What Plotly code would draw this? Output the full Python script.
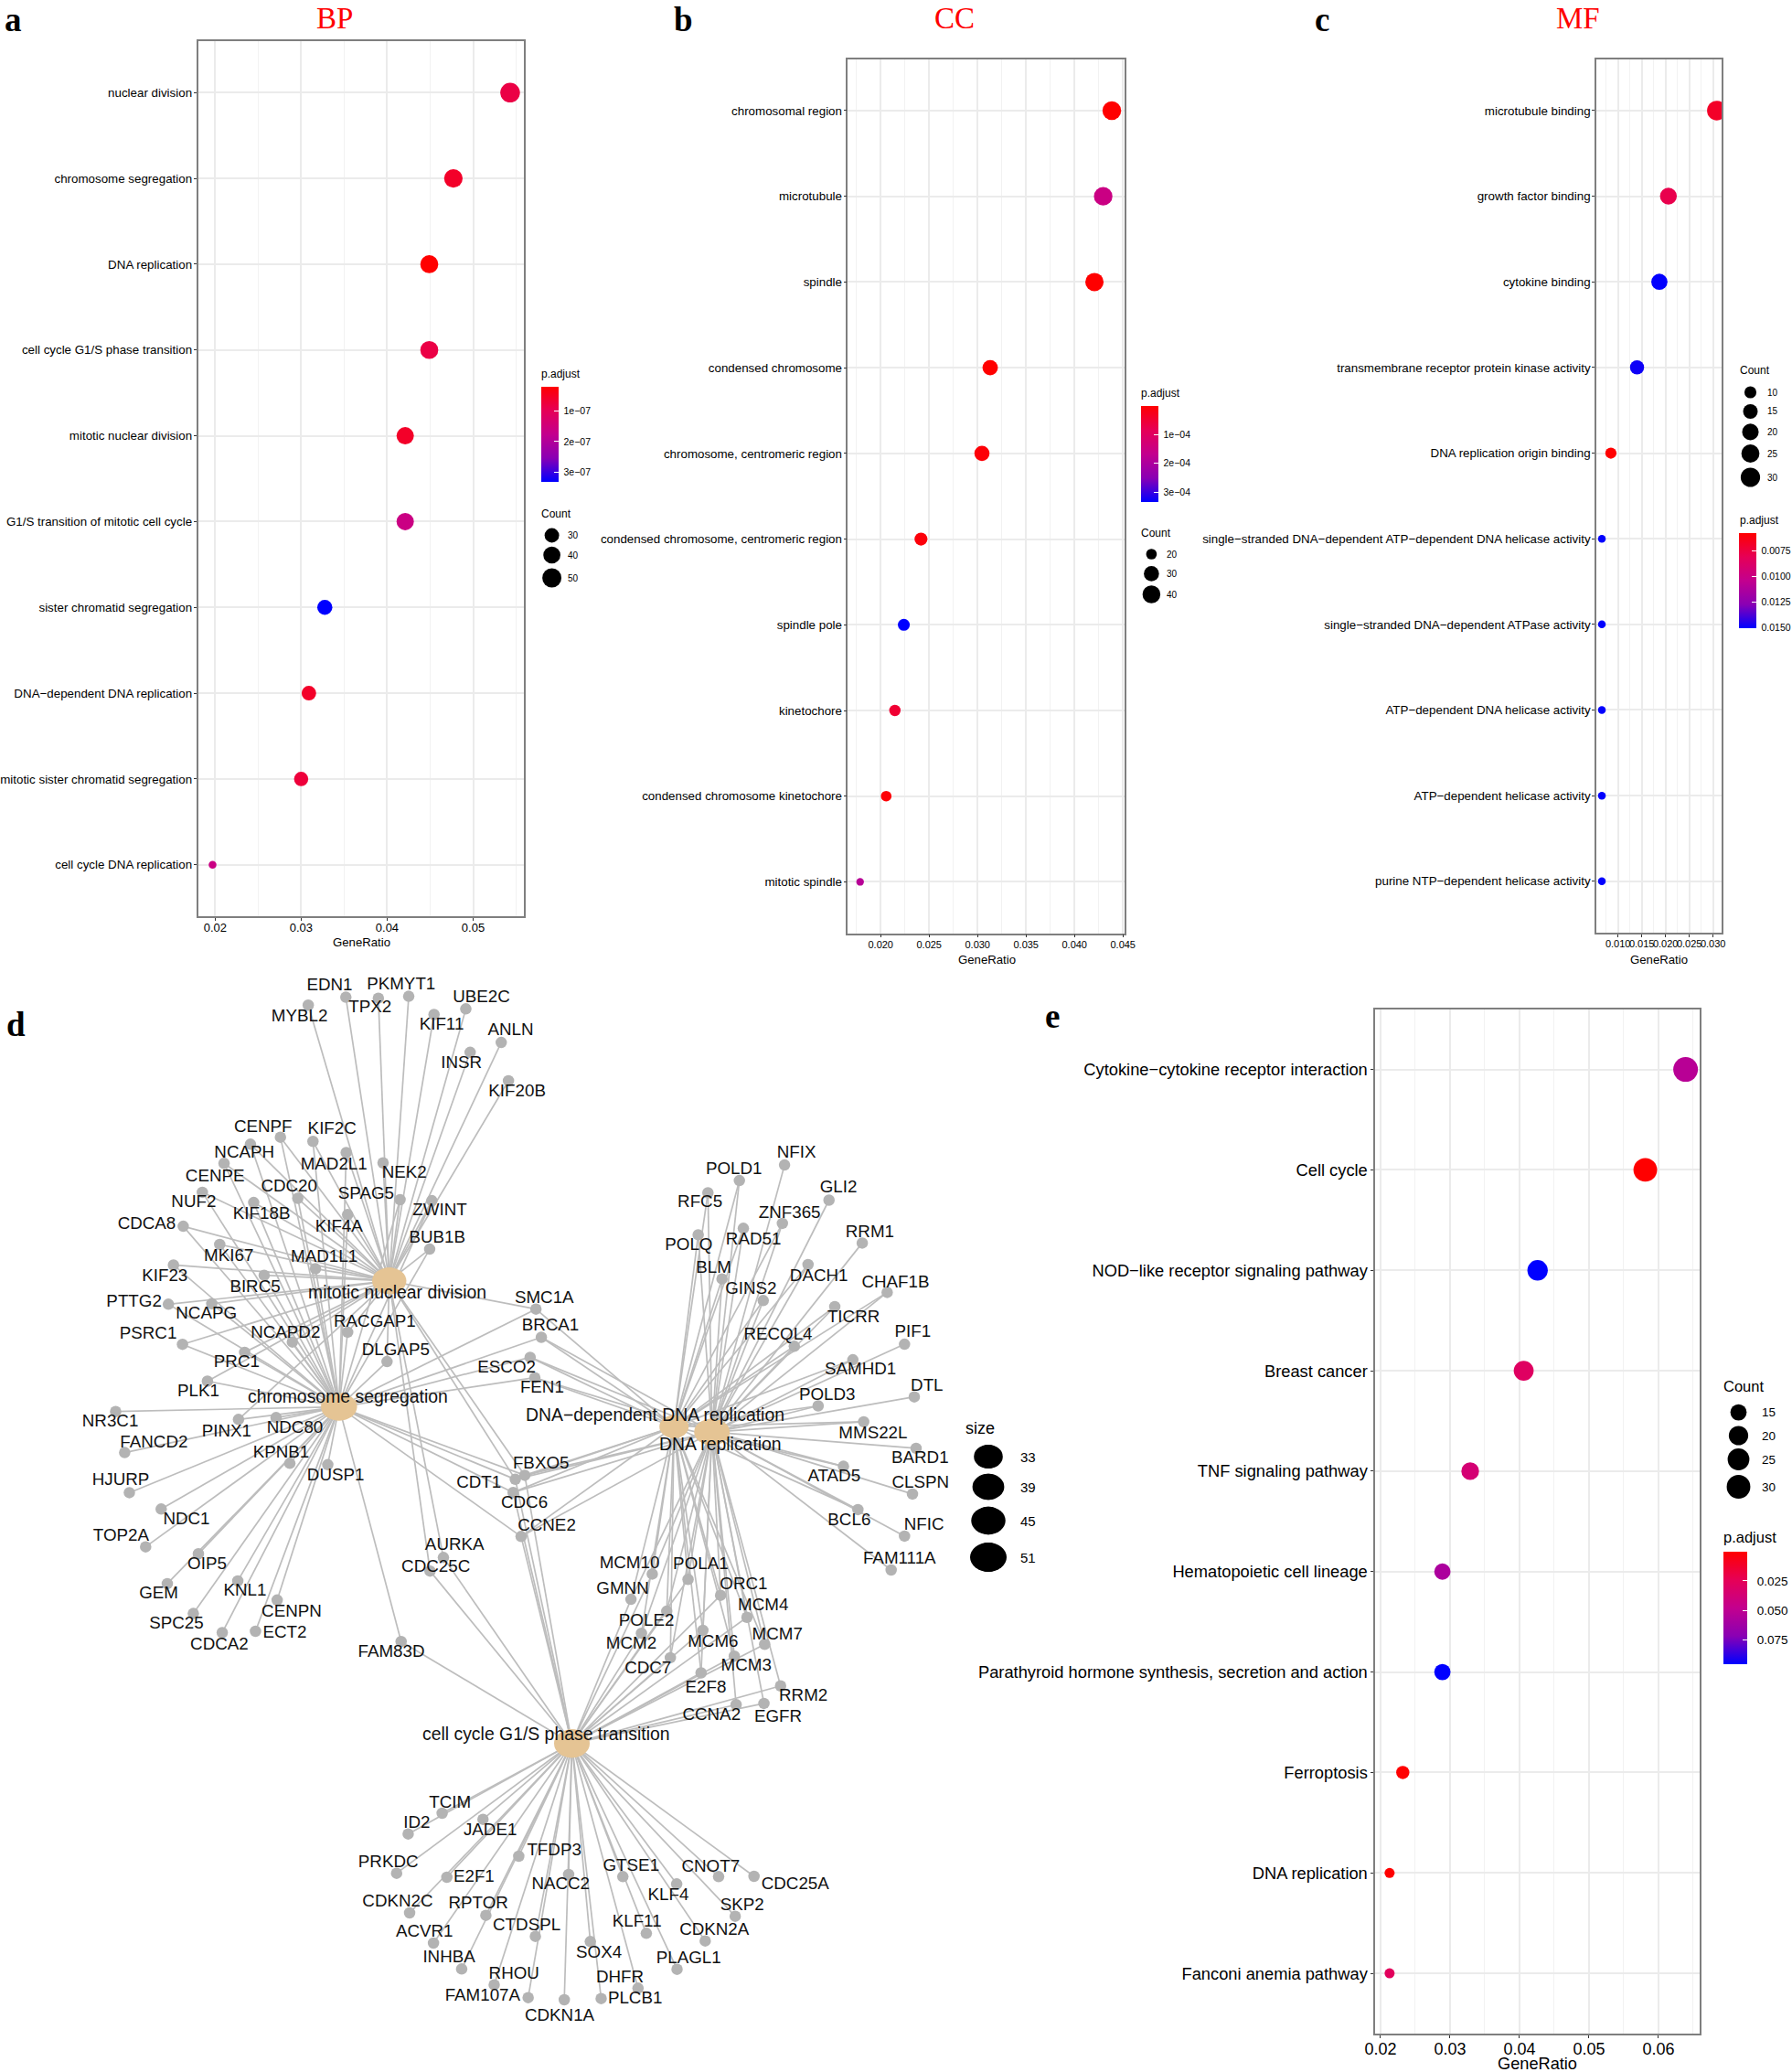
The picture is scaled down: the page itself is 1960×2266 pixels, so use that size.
import plotly.graph_objects as go

W, H = 1960, 2266

# ---------- dot plot data ----------
bp_terms = ["nuclear division", "chromosome segregation", "DNA replication", "cell cycle G1/S phase transition",
            "mitotic nuclear division", "G1/S transition of mitotic cell cycle", "sister chromatid segregation",
            "DNA\u2212dependent DNA replication", "mitotic sister chromatid segregation", "cell cycle DNA replication"]
bp_ratio = [0.0543, 0.0477, 0.0449, 0.0449, 0.0421, 0.0421, 0.03275, 0.0309, 0.0300, 0.0197]
bp_count = [53, 47, 44, 44, 41, 41, 32, 30, 29, 19]
bp_padj = [0.83e-7, 0.58e-7, 0.21e-7, 0.83e-7, 0.58e-7, 1.61e-7, 3.32e-7, 0.58e-7, 0.74e-7, 1.61e-7]

cc_terms = ["chromosomal region", "microtubule", "spindle", "condensed chromosome", "chromosome, centromeric region",
            "condensed chromosome, centromeric region", "spindle pole", "kinetochore",
            "condensed chromosome kinetochore", "mitotic spindle"]
cc_ratio = [0.04385, 0.04296, 0.04206, 0.0313, 0.03045, 0.02416, 0.02239, 0.02147, 0.02057, 0.01788]
cc_count = [44, 43, 42, 31, 30, 24, 22, 21, 20, 18]
cc_padj = [0.01e-4, 1.51e-4, 0.01e-4, 0.01e-4, 0.08e-4, 0.11e-4, 3.35e-4, 0.51e-4, 0.08e-4, 1.85e-4]

mf_terms = ["microtubule binding", "growth factor binding", "cytokine binding",
            "transmembrane receptor protein kinase activity", "DNA replication origin binding",
            "single\u2212stranded DNA\u2212dependent ATP\u2212dependent DNA helicase activity",
            "single\u2212stranded DNA\u2212dependent ATPase activity", "ATP\u2212dependent DNA helicase activity",
            "ATP\u2212dependent helicase activity", "purine NTP\u2212dependent helicase activity"]
mf_ratio = [0.0308, 0.0206, 0.0187, 0.0140, 0.0085, 0.0066, 0.0066, 0.0066, 0.0066, 0.0066]
mf_count = [31, 21, 19, 14, 9, 7, 7, 7, 7, 7]
mf_padj = [0.0068, 0.0078, 0.0150, 0.0148, 0.0057, 0.0150, 0.0150, 0.0150, 0.0150, 0.0150]

kegg_terms = ["Cytokine\u2212cytokine receptor interaction", "Cell cycle", "NOD\u2212like receptor signaling pathway",
              "Breast cancer", "TNF signaling pathway", "Hematopoietic cell lineage",
              "Parathyroid hormone synthesis, secretion and action", "Ferroptosis", "DNA replication",
              "Fanconi anemia pathway"]
kegg_ratio = [0.0639, 0.0581, 0.0426, 0.0406, 0.0329, 0.0289, 0.0289, 0.0232, 0.0213, 0.0213]
kegg_count = [33, 30, 22, 21, 17, 15, 15, 12, 11, 11]
kegg_padj = [0.0527, 0.0002, 0.0959, 0.0288, 0.0364, 0.0575, 0.0959, 0.0002, 0.0002, 0.0269]

# ---------- network data: gene, node x, node y, label x, label y (layout units) ----------
net_left = [("MYBL2",853,77,829,103),("EDN1",957,60,912,36),("TPX2",1047,62,1024,83),("PKMYT1",1131,58,1110,34),
 ("KIF11",1201,97,1222,121),("UBE2C",1289,85,1332,61),("ANLN",1387,157,1413,131),("INSR",1301,178,1277,202),
 ("KIF20B",1407,239,1431,263),("CENPF",776,360,728,339),("KIF2C",866,369,919,343),("NCAPH",693,375,676,394),
 ("MAD2L1",958,393,924,420),("NEK2",1060,415,1119,437),("CENPE",620,416,595,445),("CDC20",824,491,800,468),
 ("SPAG5",1107,494,1013,483),("NUF2",560,478,536,500),("KIF18B",702,500,724,525),("ZWINT",1195,496,1217,518),
 ("KIF4A",962,526,938,553),("CDCA8",507,551,406,547),("BUB1B",1189,600,1210,577),("MKI67",608,590,633,617),
 ("MAD1L1",873,642,897,618),("KIF23",480,634,456,659),("BIRC5",731,656,706,682),("PTTG2",466,718,371,714),
 ("NCAPG",586,717,571,740),("RACGAP1",962,778,1037,757),("NCAPD2",809,799,790,781),("PSRC1",505,804,410,783),
 ("PRC1",677,821,655,843),("DLGAP5",1071,841,1095,818),("PLK1",574,883,549,906),("NR3C1",320,948,305,970),
 ("PINX1",660,965,627,993),("NDC80",764,961,816,985),("FANCD2",345,1036,426,1016),("KPNB1",802,1059,778,1037),
 ("DUSP1",907,1062,929,1087),("HJURP",358,1122,334,1097),("NDC1",446,1157,516,1180),("TOP2A",403,1238,335,1215),
 ("OIP5",549,1253,573,1277),("GEM",463,1317,439,1340),("KNL1",658,1311,678,1334),("SPC25",535,1381,488,1403),
 ("CENPN",767,1352,807,1378),("CDCA2",615,1422,607,1449),("ECT2",707,1419,788,1423),("FAM83D",1110,1441,1083,1465),
 ("AURKA",1227,1261,1258,1235),("CDC25C",1190,1290,1206,1282)]
net_right = [("NFIX",906,166,939,137),("POLD1",781,204,766,178),("RFC5",694,234,672,259),("GLI2",1029,252,1055,222),
 ("ZNF365",900,309,920,285),("RAD51",792,321,820,350),("POLQ",667,337,641,363),("RRM1",1121,357,1142,332),
 ("DACH1",971,410,1001,440),("BLM",733,445,710,419),("CHAF1B",1190,478,1213,455),("GINS2",847,498,813,471),
 ("TICRR",1045,513,1097,541),("SMC1A",218,519,241,493),("BRCA1",233,588,258,560),("RECQL4",933,610,888,583),
 ("PIF1",1238,605,1261,576),("SAMHD1",1095,643,1116,669),("ESCO2",202,637,137,664),("FEN1",215,687,235,714),
 ("POLD3",999,756,1024,730),("DTL",1265,734,1300,708),("MMS22L",1125,795,1151,826),("BARD1",1270,860,1281,886),
 ("ATAD5",1069,904,1043,931),("CLSPN",1260,972,1282,947),("BCL6",1109,1010,1085,1038),("NFIC",1238,1075,1292,1050),
 ("FAM111A",1201,1158,1224,1133),("FBXO5",187,926,232,898),("CDT1",161,936,60,947),("CDC6",155,968,186,996),
 ("CCNE2",177,1076,248,1051),("MCM10",540,1168,477,1144),("POLA1",639,1181,674,1146),("GMNN",481,1230,458,1205),
 ("ORC1",729,1220,793,1195),("POLE2",580,1259,524,1285),("MCM4",802,1274,847,1247),("MCM2",510,1313,482,1341),
 ("MCM6",680,1306,708,1335),("MCM7",851,1340,886,1317),("CDC7",590,1373,528,1400),("MCM3",767,1369,800,1395),
 ("E2F8",675,1410,688,1448),("RRM2",895,1442,958,1468),("CCNA2",772,1488,704,1514),("EGFR",849,1485,888,1519)]
net_bottom = [("TCIM",338,399,360,366),("ID2",244,467,268,433),("JADE1",451,419,471,458),("PRKDC",212,596,189,561),
 ("TFDP3",550,540,648,522),("E2F1",351,609,426,611),("NACC2",688,600,666,635),("GTSE1",838,607,861,575),
 ("CNOT7",1103,607,1081,576),("CDC25A",1201,606,1315,635),("KLF4",987,631,964,670),("CDKN2C",248,726,215,690),
 ("RPTOR",459,734,438,696),("SKP2",1149,737,1168,703),("CTDSPL",596,803,572,770),("KLF11",903,793,877,757),
 ("CDKN2A",1066,818,1091,784),("ACVR1",314,825,289,791),("SOX4",748,820,772,859),("INHBA",392,910,357,874),
 ("PLAGL1",988,911,1020,876),("RHOU",482,962,537,929),("DHFR",880,973,830,940),("FAM107A",576,1004,450,999),
 ("CDKN1A",676,1011,663,1067),("PLCB1",778,1007,872,1008)]

hub_names = ["mitotic nuclear division", "chromosome segregation", "DNA\u2212dependent DNA replication",
             "DNA replication", "cell cycle G1/S phase transition"]
hub_xy = [(425.7, 1400.8), (370.8, 1538.6), (737.2, 1560.3), (778.7, 1566.1), (625.5, 1906.7)]
hub_label_xy = [(434, 1413), (380, 1527), (716.6, 1546.9), (787.7, 1578.6), (597, 1895.7)]
hub_size_w = [37.5, 39.5, 32, 39, 39]
hub_size_h = [29, 30, 25, 29, 31]

to_mitotic = ("MYBL2 EDN1 TPX2 PKMYT1 KIF11 UBE2C ANLN INSR KIF20B CENPF KIF2C NCAPH MAD2L1 NEK2 CENPE CDC20 SPAG5 NUF2 "
              "KIF18B ZWINT KIF4A CDCA8 BUB1B MKI67 MAD1L1 KIF23 BIRC5 PTTG2 NCAPG RACGAP1 NCAPD2 PSRC1 PRC1 DLGAP5 PLK1 "
              "PINX1 AURKA CDC25C SMC1A FBXO5 CDT1").split()
to_chromosome = ("CENPF KIF2C NCAPH MAD2L1 CENPE CDC20 SPAG5 NUF2 KIF18B ZWINT KIF4A CDCA8 BUB1B MKI67 MAD1L1 KIF23 BIRC5 "
                 "PTTG2 NCAPG RACGAP1 NCAPD2 PSRC1 PRC1 DLGAP5 PLK1 NR3C1 PINX1 NDC80 FANCD2 KPNB1 DUSP1 HJURP NDC1 TOP2A "
                 "OIP5 GEM KNL1 SPC25 CENPN CDCA2 ECT2 FAM83D SMC1A BRCA1 ESCO2 FEN1 FBXO5 CDT1 CDC6 CCNE2").split()
to_dna_dep = ("POLD1 RFC5 POLQ RAD51 BLM GINS2 RECQL4 TICRR POLD3 ATAD5 MMS22L SAMHD1 CHAF1B DACH1 ZNF365 SMC1A BRCA1 ESCO2 "
              "FEN1 FBXO5 CDT1 CDC6 CCNE2 MCM10 POLA1 GMNN ORC1 POLE2 MCM4 MCM2 MCM6 MCM7 CDC7 MCM3 E2F8 BCL6").split()
to_dna_rep = ("NFIX POLD1 RFC5 GLI2 ZNF365 RAD51 POLQ RRM1 DACH1 BLM CHAF1B GINS2 TICRR BRCA1 RECQL4 PIF1 SAMHD1 ESCO2 FEN1 "
              "POLD3 DTL MMS22L BARD1 ATAD5 CLSPN BCL6 NFIC FAM111A FBXO5 CDT1 CDC6 CCNE2 MCM10 POLA1 GMNN ORC1 POLE2 MCM4 "
              "MCM2 MCM6 MCM7 CDC7 MCM3 E2F8 RRM2 CCNA2 EGFR").split()
to_g1s = ("TCIM ID2 JADE1 PRKDC TFDP3 E2F1 NACC2 GTSE1 CNOT7 CDC25A KLF4 CDKN2C RPTOR SKP2 CTDSPL KLF11 CDKN2A ACVR1 SOX4 "
          "INHBA PLAGL1 RHOU DHFR FAM107A CDKN1A PLCB1 FAM83D AURKA CDC25C FBXO5 CDT1 CDC6 CCNE2 MCM10 POLA1 GMNN ORC1 POLE2 "
          "MCM4 MCM2 MCM6 MCM7 CDC7 MCM3 E2F8 RRM2 CCNA2 EGFR").split()
hub_genes = [to_mitotic, to_chromosome, to_dna_dep, to_dna_rep, to_g1s]

size_legend_values = [33, 39, 45, 51]
size_legend_y = [1593, 1626, 1663, 1703]
size_legend_w = [31.6, 34.8, 37.5, 40]
size_legend_h = [26, 28.6, 30.4, 32]

# ---------- helpers ----------
SANS = "Liberation Sans"
SERIF = "Liberation Serif"
GRAD = [[0, "#0000FF"], [0.25, "#8A00B4"], [0.5, "#C3008E"], [0.75, "#E60056"], [1, "#FF0000"]]


def fx(p):
    return p / W


def fy(p):
    return 1 - p / H


def dia(c, cmin, cmax, dmin, dmax):
    return dmin + (dmax - dmin) * (max(c - cmin, 0) / (cmax - cmin)) ** 0.5


fig = go.Figure()
annotations = []
shapes = []


def note(text, x, y, size, anchor="left", font=SANS, color="black", weight=None):
    annotations.append(dict(text=text, x=fx(x), y=fy(y), xref="paper", yref="paper", showarrow=False,
                            xanchor=anchor, yanchor="middle", align=anchor, borderpad=0, borderwidth=0,
                            font=dict(family=font, size=size, color=color, weight=weight)))


panels = [
    dict(terms=bp_terms, ratio=bp_ratio, count=bp_count, padj=bp_padj, box=(216.5, 573, 45, 1002),
         xr=(0.0180, 0.0559), dtick=0.01, tick0=0.02, fmt=".2f", tsize=13, lsize=13.35, gr=(395, 1030, 13.2), off=-3, yoff=-1,
         d=(19, 53, 8.5, 21.5), cb=(592.4, 611, 423, 527.4), cr=(0.206e-7, 3.32e-7),
         cbv=[1e-7, 2e-7, 3e-7], cbt=["1e\u221207", "2e\u221207", "3e\u221207"], csize=10.5, pad=1,
         ptitle=(592.4, 409), ctitle=(592.4, 562), ldot=603.6, llab=621.4,
         lv=[30, 40, 50], ly=[585.5, 607, 632], tfont=12, lfont=10),
    dict(terms=cc_terms, ratio=cc_ratio, count=cc_count, padj=cc_padj, box=(927.4, 1229.5, 64.7, 1020.7),
         xr=(0.01662, 0.04512), dtick=0.005, tick0=0.02, fmt=".3f", tsize=11, lsize=13.35, gr=(1079, 1049.6, 13.2), off=-2, yoff=-1,
         d=(18, 44, 8.3, 20.5), cb=(1247.9, 1267.2, 444.2, 548.9), cr=(0.01e-4, 3.35e-4),
         cbv=[1e-4, 2e-4, 3e-4], cbt=["1e\u221204", "2e\u221204", "3e\u221204"], csize=10.5, pad=1,
         ptitle=(1247.9, 430.4), ctitle=(1247.9, 582.6), ldot=1259.4, llab=1276,
         lv=[20, 30, 40], ly=[606, 627.4, 650], tfont=12, lfont=10),
    dict(terms=mf_terms, ratio=mf_ratio, count=mf_count, padj=mf_padj, box=(1746, 1883, 64.7, 1020),
         xr=(0.00544, 0.03179), dtick=0.005, tick0=0.01, fmt=".3f", tsize=11, lsize=13.35, gr=(1814.7, 1049.6, 13.2), off=-2, yoff=-1,
         d=(7, 31, 8.5, 21.5), cb=(1902, 1921, 582.6, 687), cr=(0.00571, 0.01504),
         cbv=[0.0075, 0.0100, 0.0125, 0.0150], cbt=["0.0075", "0.0100", "0.0125", "0.0150"], csize=10.5, pad=1,
         ptitle=(1902.7, 569), ctitle=(1902.7, 405), ldot=1914.5, llab=1933,
         lv=[10, 15, 20, 25, 30], ly=[429, 450, 472.4, 496, 522], tfont=12, lfont=10),
    dict(terms=kegg_terms, ratio=kegg_ratio, count=kegg_count, padj=kegg_padj, box=(1504.2, 1859.2, 1103.7, 2224),
         xr=(0.01924, 0.06595), dtick=0.01, tick0=0.02, fmt=".2f", tsize=18, lsize=18.3, gr=(1681.5, 2257, 18.2), off=-3, yoff=0,
         d=(11, 33, 11, 27), cb=(1885, 1911, 1697, 1819.7), cr=(0.0002, 0.0959),
         cbv=[0.025, 0.05, 0.075], cbt=["0.025", "0.050", "0.075"], csize=13.5, pad=2,
         ptitle=(1885, 1681.4), ctitle=(1885, 1516), ldot=1901.5, llab=1927,
         lv=[15, 20, 25, 30], ly=[1544.6, 1570, 1596, 1626], tfont=16.5, lfont=13.5),
]

axis_style = dict(showline=True, mirror=True, linecolor="#7F7F7F", linewidth=1.5, gridcolor="#EBEBEB", gridwidth=1.5,
                  ticks="outside", ticklen=3, tickcolor="#333333", zeroline=False, showgrid=True)
layout_axes = {}
legend_x, legend_y, legend_s = [], [], []

for i, p in enumerate(panels, start=1):
    l, r, t, b = p["box"]
    ax = "" if i == 1 else str(i)
    n = len(p["terms"])
    tvals = []
    v = p["tick0"]
    while v <= p["xr"][1] + 1e-9:
        tvals.append(round(v, 4))
        v += p["dtick"]
    layout_axes[f"xaxis{ax}"] = dict(domain=[fx(l), fx(r)], range=list(p["xr"]), anchor=f"y{ax}", tickmode="array",
                                     tickvals=tvals, ticktext=[format(v, p["fmt"]) for v in tvals], tickangle=0,
                                     tickfont=dict(family=SANS, size=p["tsize"], color="black"),
                                     ticklabelstandoff=p["off"],
                                     minor=dict(dtick=p["dtick"] / 2, tick0=p["tick0"], showgrid=True, gridcolor="#F2F2F2",
                                                gridwidth=1, ticks=""),
                                     **axis_style)
    layout_axes[f"yaxis{ax}"] = dict(domain=[fy(b), fy(t)], type="category", categoryorder="array",
                                     categoryarray=p["terms"], range=[n - 0.4, -0.6], anchor=f"x{ax}",
                                     ticklabelstandoff=p["yoff"],
                                     tickfont=dict(family=SANS, size=p["lsize"], color="black"), **axis_style)
    cl, cr, ct, cb = p["cb"]
    fig.add_trace(go.Scatter(
        x=p["ratio"], y=p["terms"], mode="markers", xaxis=f"x{ax}", yaxis=f"y{ax}", showlegend=False,
        marker=dict(size=[dia(c, *p["d"]) for c in p["count"]], color=[-v for v in p["padj"]], opacity=1,
                    cmin=-p["cr"][1], cmax=-p["cr"][0], colorscale=GRAD, line=dict(width=0),
                    colorbar=dict(x=fx(cl), xanchor="left", y=fy(ct), yanchor="top", len=cb - ct, lenmode="pixels",
                                  thickness=cr - cl, thicknessmode="pixels", outlinewidth=0, xpad=0, ypad=0,
                                  ticks="inside", tickcolor="white", ticklen=5, tickwidth=1,
                                  tickmode="array", tickvals=[-v for v in p["cbv"]],
                                  ticktext=["\u00a0" * p["pad"] + s for s in p["cbt"]],
                                  tickfont=dict(family=SANS, size=p["csize"], color="black")))))
    note("GeneRatio", p["gr"][0], p["gr"][1], p["gr"][2], anchor="center")
    note("p.adjust", p["ptitle"][0], p["ptitle"][1], p["tfont"])
    note("Count", p["ctitle"][0], p["ctitle"][1], p["tfont"])
    for v, y in zip(p["lv"], p["ly"]):
        legend_x.append(p["ldot"])
        legend_y.append(y)
        legend_s.append(dia(v, *p["d"]))
        note(str(v), p["llab"], y, p["lfont"])

# ---------- network ----------
layout_axes["xaxis6"] = dict(domain=[0, 1], range=[0, W], visible=False, anchor="y6", fixedrange=True)
layout_axes["yaxis6"] = dict(domain=[0, 1], range=[H, 0], visible=False, anchor="x6", fixedrange=True)


def conv(rows, sx, sy, ox, oy):
    return {g: (a / sx + ox, b / sy + oy, c / sx + ox, d / sy + oy) for g, a, b, c, d in rows}


nodes = {}
nodes.update(conv(net_left, 2.53, 1.96, 0, 1060))
nodes.update(conv(net_right, 2.53, 2.24, 500, 1200))
nodes.update(conv(net_bottom, 2.53, 3.0, 350, 1850))

ex, ey = [], []
for (hx, hy), genes in zip(hub_xy, hub_genes):
    for g in genes:
        ex += [hx, nodes[g][0], None]
        ey += [hy, nodes[g][1], None]

fig.add_trace(go.Scatter(x=ex, y=ey, mode="lines", xaxis="x6", yaxis="y6", showlegend=False, hoverinfo="skip",
                         line=dict(color="#BDBDBD", width=1.7)))
names = list(nodes)
fig.add_trace(go.Scatter(x=[nodes[g][0] for g in names], y=[nodes[g][1] for g in names], mode="markers",
                         xaxis="x6", yaxis="y6", showlegend=False, text=names,
                         marker=dict(size=12.5, color="#B3B3B3", line=dict(width=0), opacity=1)))
fig.add_trace(go.Scatter(x=[h[0] for h in hub_xy], y=[h[1] for h in hub_xy], mode="markers", xaxis="x6", yaxis="y6",
                         showlegend=False, text=hub_names,
                         marker=dict(size=hub_size_h, color="#E5C494", line=dict(width=0), opacity=1)))
fig.add_trace(go.Scatter(x=[nodes[g][2] for g in names], y=[nodes[g][3] for g in names], mode="text", text=names,
                         textposition="middle center", xaxis="x6", yaxis="y6", showlegend=False, hoverinfo="skip",
                         textfont=dict(family=SANS, size=18.8, color="#111111")))
for nm, (hx, hy), (lx, ly), w, h in zip(hub_names, hub_xy, hub_label_xy, hub_size_w, hub_size_h):
    shapes.append(dict(type="circle", xref="x6", yref="y6", xsizemode="pixel", ysizemode="pixel", xanchor=hx, yanchor=hy,
                       x0=-w / 2, x1=w / 2, y0=-h / 2, y1=h / 2, fillcolor="#E5C494", line=dict(width=0), layer="above"))
    note(nm, lx, ly, 19.4, anchor="center", color="#111111")

# size legend
fig.add_trace(go.Scatter(x=[1081] * len(size_legend_y), y=size_legend_y, mode="markers", xaxis="x6", yaxis="y6",
                         showlegend=False, text=[str(v) for v in size_legend_values],
                         marker=dict(size=size_legend_h, color="black", line=dict(width=0), opacity=1)))
for v, y, w, h in zip(size_legend_values, size_legend_y, size_legend_w, size_legend_h):
    shapes.append(dict(type="circle", xref="x6", yref="y6", xsizemode="pixel", ysizemode="pixel", xanchor=1081, yanchor=y,
                       x0=-w / 2, x1=w / 2, y0=-h / 2, y1=h / 2, fillcolor="black", line=dict(width=0), layer="above"))
    note(str(v), 1116, y, 15)
note("size", 1056, 1561.6, 18)

# dot-plot count legends
fig.add_trace(go.Scatter(x=legend_x, y=legend_y, mode="markers", xaxis="x6", yaxis="y6", showlegend=False,
                         marker=dict(size=legend_s, color="black", line=dict(width=0), opacity=1)))

# panel letters and titles
for txt, x, y in [("a", 14, 22), ("b", 747, 22), ("c", 1446, 22), ("d", 17, 1120), ("e", 1151, 1111)]:
    note(f"<b>{txt}</b>", x, y, 37, anchor="center", font=SERIF)
for txt, x, y in [("BP", 366, 19.5), ("CC", 1044, 19.5), ("MF", 1726, 19.5)]:
    note(txt, x, y, 33, anchor="center", font=SERIF, color="#FF0000")

fig.update_layout(width=W, height=H, margin=dict(l=0, r=0, t=0, b=0, autoexpand=False),
                  paper_bgcolor="white", plot_bgcolor="rgba(0,0,0,0)",
                  showlegend=False, annotations=annotations, shapes=shapes, **layout_axes)

fig.write_html("out.html", config={"displayModeBar": False},
               post_script="document.body.style.margin='0';document.body.style.overflow='hidden';")
